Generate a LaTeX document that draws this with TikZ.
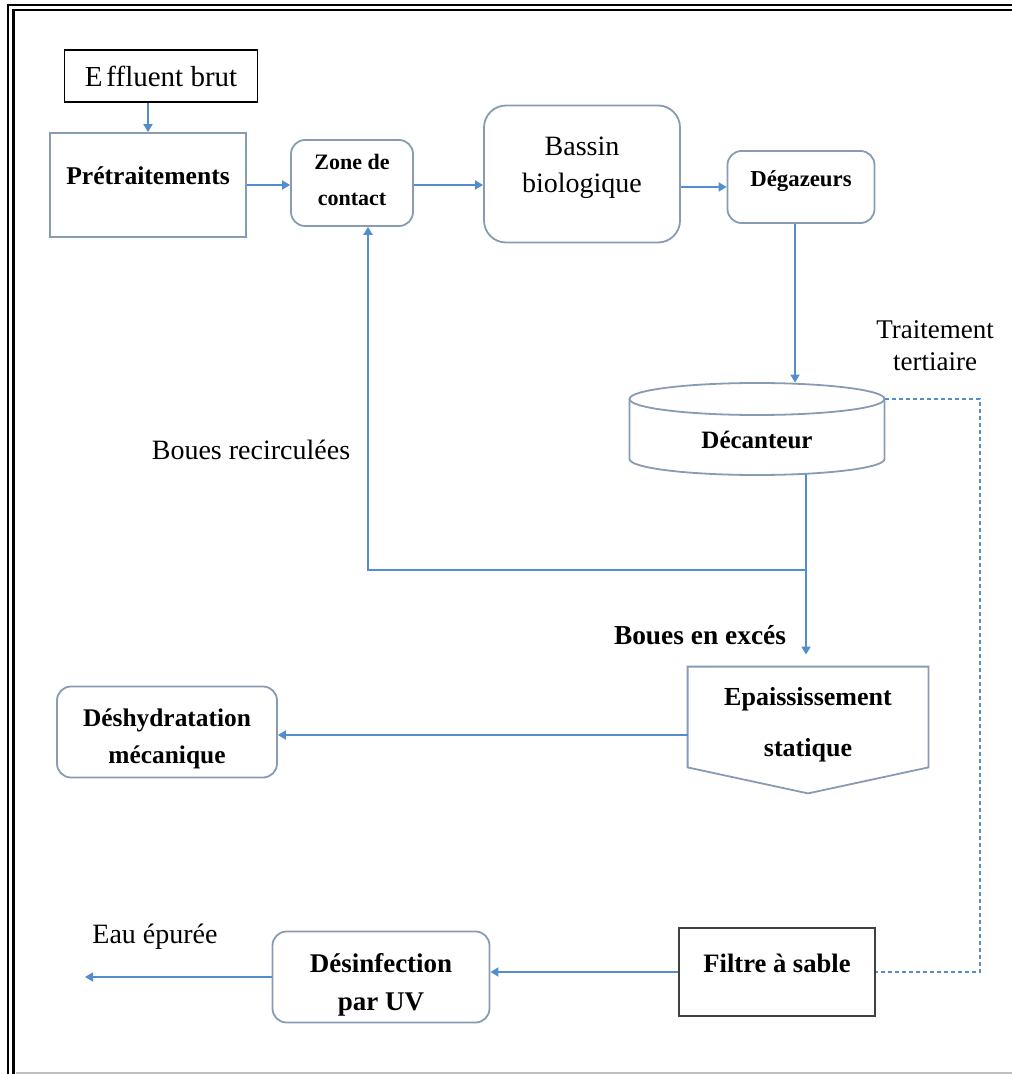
\documentclass[tikz,border=0pt]{standalone}
\usepackage{fontspec}
\setmainfont{Liberation Serif}
\usepackage{xcolor}
\usetikzlibrary{arrows.meta,positioning,calc}
\definecolor{boxline}{RGB}{135,155,178}
\definecolor{flow}{RGB}{84,141,204}

\begin{document}
\begin{tikzpicture}[
  x=0.5pt,y=-0.5pt,
  n/.style={rectangle,draw=boxline,line width=0.9pt,align=center,inner sep=3pt},
  r/.style={n,rounded corners=7pt},
  lbl/.style={align=center,inner sep=1pt},
  a/.style={-{Triangle[length=4pt,width=4.5pt]},draw=flow,line width=0.9pt}
]
\useasboundingbox (0,0) rectangle (1011,1074);
% cadre
\draw[line width=1.1pt] (1015,5) -- (8,5) -- (8,1080);
\draw[line width=1.4pt] (1015,10) -- (13.5,10) -- (13.5,1080);
\draw[black!25,line width=0.6pt] (16,1073) -- (1015,1073);

% filiere eau
\node[draw=black,line width=0.9pt,minimum width=96.5pt,minimum height=26pt,font=\fontsize{14.5}{16}\selectfont] (eff) at (161,76) {E\kern2pt ffluent brut};
\node[n,minimum width=98pt,minimum height=52pt,text height=6pt,text depth=6pt,font=\fontsize{12.8}{15}\selectfont\bfseries] (pre) at (148,185) {Prétraitements};
\node[r,minimum width=61pt,minimum height=43pt,text height=25pt,text depth=2pt,font=\fontsize{11}{18}\selectfont\bfseries] (zone) at (352,183) {Zone de\\contact};
\node[r,rounded corners=11pt,minimum width=98pt,minimum height=68.5pt,text height=21pt,text depth=2pt,font=\fontsize{14}{18.5}\selectfont] (bas) at (582,174) {Bassin\\biologique};
\node[r,minimum width=73.5pt,minimum height=36pt,text height=5pt,text depth=5pt,font=\fontsize{11.4}{15}\selectfont\bfseries] (deg) at (801,187) {Dégazeurs};
\node[minimum width=127.5pt,minimum height=46pt,text height=20pt,text depth=1pt,font=\fontsize{12.5}{15}\selectfont\bfseries] (dec) at (757,429) {Décanteur};
\draw[boxline,line width=0.9pt] (757,399) ellipse [x radius=127.5,y radius=16];
\draw[boxline,line width=0.9pt] (629.5,399) -- (629.5,459) arc[start angle=180,end angle=360,x radius=127.5,y radius=-16] -- (884.5,399);

% filiere boues
\node[minimum width=120pt,minimum height=50pt,align=center,text height=41pt,text depth=2pt,font=\fontsize{13}{25.5}\selectfont\bfseries] (ep) at (808,717) {Epaississement\\statique};
\draw[boxline,line width=0.9pt] (ep.north west) -- (ep.north east) -- (ep.south east) -- ($(ep.south)+(0,26)$) -- (ep.south west) -- cycle;
\node[r,minimum width=110pt,minimum height=45.5pt,text height=33pt,text depth=2pt,font=\fontsize{12.7}{18.5}\selectfont\bfseries] (desh) at (167,732) {Déshydratation\\mécanique};

% traitement tertiaire
\node[n,draw=black!75,minimum width=98pt,minimum height=44pt,text height=6pt,text depth=6pt,font=\fontsize{13.3}{15}\selectfont\bfseries] (fil) at (777,972) {Filtre à sable};
\node[r,minimum width=108.5pt,minimum height=45.5pt,text height=35pt,text depth=2pt,font=\fontsize{13.5}{19}\selectfont\bfseries] (dsf) at (381,977) {Désinfection\\par UV};

\coordinate (dout) at (806,474);
\coordinate (split) at (806,570);
\coordinate (rc) at (368,570);
\coordinate (out) at (85,972);

% textes
\node[lbl,font=\fontsize{14}{16}\selectfont] (lrec) at (251,450) {Boues recirculées};
\node[lbl,font=\fontsize{13.7}{15}\selectfont\bfseries] (lexc) at (700,635) {Boues en excés};
\node[lbl,font=\fontsize{13.5}{16}\selectfont] (ltert) at (935,346) {Traitement\\tertiaire};
\node[lbl,font=\fontsize{14}{15}\selectfont] (leau) at (155,937) {Eau épurée};

% liaisons
\draw[a] (pre.north |- eff.south) -- (pre.north);
\draw[a] (pre.east) -- (pre.east -| zone.west);
\draw[a] (zone.east |- pre.east) -- (bas.west |- pre.east);
\draw[a] (bas.east |- deg.west) -- (deg.west);
\draw[a] ([xshift=-3pt]deg.south) -- ([xshift=-3pt]deg.south |- dec.north);
\draw[a] (dout) -- ([yshift=6pt]dout |- ep.north);
\draw[a] (split) -- (rc) -- (rc |- zone.south);
\draw[a] ([yshift=-9pt]ep.west) -- ([yshift=-9pt]ep.west -| desh.east);
\draw[flow,line width=0.7pt,dash pattern=on 2pt off 1.5pt] ([yshift=15pt]dec.east) -- ++(95,0) |- (fil.east);
\draw[a] (fil.west) -- (fil.west -| dsf.east);
\draw[a] (dsf.west) -- (dsf.west -| out);
\end{tikzpicture}
\end{document}
